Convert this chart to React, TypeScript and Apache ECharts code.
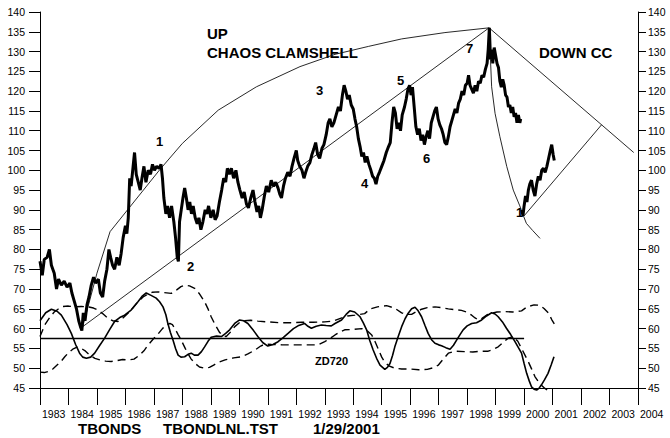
import React, { useEffect, useRef } from "react";
import * as echarts from "echarts";

// ---- data (year, value) ----
const yearTicks: number[] = [1983, 1984, 1985, 1986, 1987, 1988, 1989, 1990, 1991, 1992, 1993, 1994, 1995, 1996, 1997, 1998, 1999, 2000, 2001, 2002, 2003, 2004];

const priceMain: [number, number][] = [
  [1983.0, 77], [1983.08, 73.5], [1983.15, 77.5], [1983.25, 78], [1983.33, 80], [1983.4, 76], [1983.5, 74], [1983.58, 70],
  [1983.65, 72.5], [1983.75, 71], [1983.85, 72], [1983.95, 70.5], [1984.05, 71.5], [1984.12, 69], [1984.2, 67], [1984.28, 65],
  [1984.36, 62], [1984.42, 60.5], [1984.47, 59.5], [1984.52, 64], [1984.58, 62], [1984.65, 66], [1984.72, 68], [1984.8, 71],
  [1984.88, 73], [1984.95, 71.5], [1985.05, 72.5], [1985.12, 69], [1985.2, 68], [1985.27, 72], [1985.35, 75], [1985.42, 80],
  [1985.48, 78], [1985.55, 76], [1985.62, 75], [1985.7, 78], [1985.78, 76], [1985.85, 79], [1985.92, 83], [1986.0, 86],
  [1986.05, 84], [1986.1, 88], [1986.15, 98], [1986.2, 96], [1986.27, 101], [1986.32, 104.5], [1986.38, 99], [1986.45, 97],
  [1986.52, 95], [1986.58, 98], [1986.65, 101], [1986.72, 97], [1986.8, 100], [1986.88, 99], [1986.95, 101.5], [1987.02, 100],
  [1987.1, 101], [1987.18, 100.5], [1987.25, 101.5], [1987.3, 98], [1987.35, 93], [1987.42, 89], [1987.48, 91], [1987.55, 88],
  [1987.62, 91], [1987.7, 87], [1987.76, 83], [1987.82, 78], [1987.86, 77], [1987.9, 87], [1987.96, 90], [1988.02, 93],
  [1988.08, 95.5], [1988.14, 93], [1988.2, 90], [1988.26, 92], [1988.32, 89], [1988.38, 91], [1988.45, 88], [1988.52, 86.5],
  [1988.58, 88], [1988.65, 85], [1988.72, 87], [1988.8, 90], [1988.86, 89], [1988.92, 91], [1989.0, 88], [1989.08, 90],
  [1989.15, 87.5], [1989.22, 88.5], [1989.3, 92], [1989.38, 95], [1989.45, 98], [1989.52, 97], [1989.58, 100.5], [1989.65, 99],
  [1989.72, 100.5], [1989.8, 98], [1989.88, 100], [1989.95, 97], [1990.02, 95], [1990.1, 93], [1990.17, 94.5], [1990.25, 91.5],
  [1990.32, 90.5], [1990.4, 93], [1990.48, 95], [1990.55, 92], [1990.62, 89.5], [1990.68, 91], [1990.74, 88], [1990.8, 90],
  [1990.88, 93.5], [1990.95, 96], [1991.03, 94.5], [1991.12, 97.5], [1991.2, 96], [1991.28, 97], [1991.36, 95.5], [1991.42, 94],
  [1991.48, 93], [1991.55, 96], [1991.62, 98], [1991.7, 99.5], [1991.78, 98.5], [1991.85, 101], [1991.92, 103], [1992.0, 105],
  [1992.05, 102.5], [1992.12, 101], [1992.2, 100], [1992.27, 98], [1992.33, 99.5], [1992.4, 101], [1992.48, 102], [1992.55, 104],
  [1992.62, 105.5], [1992.68, 107], [1992.75, 104], [1992.82, 103], [1992.9, 105.5], [1992.97, 106.5], [1993.05, 109], [1993.12, 112],
  [1993.18, 113], [1993.25, 111], [1993.32, 112], [1993.4, 114], [1993.48, 116], [1993.55, 115], [1993.62, 119], [1993.68, 121.5],
  [1993.74, 120], [1993.8, 118], [1993.86, 119], [1993.93, 116.5], [1994.0, 115.5], [1994.06, 113], [1994.12, 111], [1994.18, 108],
  [1994.24, 106], [1994.3, 103.5], [1994.36, 104.5], [1994.42, 102], [1994.48, 103.5], [1994.55, 101.5], [1994.62, 100], [1994.68, 98.5],
  [1994.74, 98], [1994.8, 96.5], [1994.86, 98.5], [1994.92, 99.5], [1995.0, 101], [1995.08, 102.5], [1995.16, 104.5], [1995.24, 106],
  [1995.3, 107], [1995.36, 112], [1995.42, 116], [1995.48, 114.5], [1995.54, 110.5], [1995.6, 112], [1995.66, 110], [1995.72, 114],
  [1995.8, 116], [1995.86, 118], [1995.92, 120.5], [1995.98, 121.5], [1996.03, 119], [1996.08, 121], [1996.14, 116], [1996.2, 111],
  [1996.26, 109], [1996.32, 110.5], [1996.38, 107.5], [1996.44, 109], [1996.5, 106.5], [1996.56, 108.5], [1996.62, 110], [1996.68, 108],
  [1996.74, 112], [1996.8, 113.5], [1996.86, 115], [1996.92, 116], [1996.98, 113], [1997.04, 111.5], [1997.1, 110.5], [1997.16, 109],
  [1997.22, 107], [1997.28, 106.5], [1997.34, 108.5], [1997.4, 111], [1997.46, 112.5], [1997.52, 114], [1997.58, 115.5], [1997.64, 114.5],
  [1997.7, 117], [1997.76, 118], [1997.82, 120], [1997.88, 119], [1997.94, 121.5], [1998.0, 122], [1998.05, 124], [1998.1, 121.5],
  [1998.16, 120.5], [1998.22, 119.5], [1998.28, 121.5], [1998.34, 120], [1998.4, 122.5], [1998.46, 122], [1998.52, 124], [1998.58, 123.5],
  [1998.64, 125.5], [1998.7, 127], [1998.74, 130.5], [1998.78, 136], [1998.82, 128], [1998.86, 130.5], [1998.9, 127], [1998.95, 131],
  [1999.0, 129], [1999.05, 127], [1999.1, 126], [1999.15, 122.5], [1999.2, 121], [1999.25, 123], [1999.3, 121.5], [1999.35, 119],
  [1999.4, 118.5], [1999.45, 116], [1999.5, 116.5], [1999.55, 114.5], [1999.6, 116], [1999.65, 113.5], [1999.7, 114.5], [1999.75, 112],
  [1999.8, 114], [1999.85, 112], [1999.88, 113],
];

const priceNew: [number, number][] = [
  [1999.92, 90], [1999.96, 88.5], [2000.0, 91], [2000.05, 93.5], [2000.1, 92], [2000.15, 95], [2000.2, 96.5], [2000.26, 97.5],
  [2000.32, 95], [2000.38, 93.5], [2000.44, 96.5], [2000.5, 98.5], [2000.56, 97.5], [2000.62, 100], [2000.68, 100.5], [2000.74, 99.5],
  [2000.8, 101], [2000.86, 103], [2000.92, 105], [2000.97, 106.5], [2001.02, 104], [2001.06, 102.5],
];

const upArc: [number, number][] = [
  [1984.5, 60.5], [1985.0, 74], [1985.46, 84.5], [1987.2, 100.1], [1988.0, 106.8], [1989.26, 115.2], [1990.6, 121.1],
  [1992.13, 126.2], [1993.36, 129.3], [1994.53, 131.3], [1995.7, 133.2], [1997.22, 134.8], [1998.77, 136],
];
const upLine: [number, number][] = [[1984.5, 60.5], [1998.77, 136]];
const downLine: [number, number][] = [[1998.77, 136], [2003.85, 104.5]];
const downRise: [number, number][] = [[2000.0, 88.5], [2002.72, 111.5]];
const downCurve: [number, number][] = [
  [1998.77, 136], [1998.82, 128], [1998.86, 121.1], [1998.98, 114.4], [1999.15, 108.5], [1999.39, 101], [1999.62, 95],
  [1999.85, 91], [1999.95, 89], [2000.08, 86.6], [2000.3, 84.8], [2000.56, 82.8],
];

const zd720: [number, number][] = [
  [1983.0, 62], [1983.2, 64], [1983.4, 64.9], [1983.6, 64.4], [1983.75, 63.4], [1983.95, 61], [1984.1, 58.8], [1984.25, 56],
  [1984.39, 53.8], [1984.5, 52.8], [1984.63, 52.5], [1984.78, 52.8], [1984.92, 53.8], [1985.1, 55.8], [1985.27, 57.6], [1985.45, 59.8],
  [1985.62, 61.8], [1985.8, 62.8], [1985.97, 63.4], [1986.2, 64.7], [1986.44, 66.8], [1986.6, 68.3], [1986.73, 69], [1986.9, 68.4],
  [1987.08, 67.7], [1987.2, 66.8], [1987.32, 65.5], [1987.42, 63.5], [1987.49, 61.3], [1987.58, 59], [1987.67, 57.1], [1987.76, 55],
  [1987.85, 53.3], [1987.95, 52.8], [1988.08, 52.9], [1988.2, 53.5], [1988.31, 53.8], [1988.42, 53.3], [1988.55, 53.3], [1988.67, 54.2],
  [1988.78, 55.4], [1988.9, 56.8], [1989.01, 57.8], [1989.2, 58.1], [1989.37, 58], [1989.52, 58.8], [1989.66, 59.7], [1989.85, 61.4],
  [1990.01, 62.2], [1990.15, 62], [1990.3, 61.3], [1990.5, 59.5], [1990.65, 58], [1990.82, 56.5], [1991.0, 55.6], [1991.18, 56],
  [1991.36, 56.7], [1991.55, 57.8], [1991.71, 58.8], [1991.9, 60], [1992.06, 60.7], [1992.29, 61.3], [1992.41, 60.6], [1992.53, 60.1],
  [1992.7, 60.6], [1992.88, 60.9], [1993.05, 60.8], [1993.23, 60.7], [1993.36, 61.3], [1993.59, 62.2], [1993.75, 63.6], [1993.88, 64.5],
  [1994.05, 64.2], [1994.24, 63], [1994.35, 61.5], [1994.47, 59.7], [1994.58, 57], [1994.7, 54.6], [1994.82, 52.5], [1994.94, 50.8],
  [1995.11, 49.7], [1995.2, 50.2], [1995.29, 51.2], [1995.38, 53.2], [1995.46, 55.4], [1995.58, 58], [1995.7, 60.5], [1995.82, 62.5],
  [1995.93, 63.9], [1996.05, 65], [1996.17, 65.4], [1996.28, 64.5], [1996.4, 63], [1996.52, 60.8], [1996.63, 58.8], [1996.75, 57.2],
  [1996.87, 56.3], [1997.0, 55.9], [1997.1, 55.7], [1997.25, 55.2], [1997.4, 54.8], [1997.52, 55.8], [1997.63, 57.1], [1997.75, 58.5],
  [1997.86, 59.7], [1998.0, 60.7], [1998.16, 61.3], [1998.33, 61.5], [1998.51, 62.2], [1998.68, 63.2], [1998.86, 64], [1998.98, 63.7],
  [1999.09, 63], [1999.24, 61.7], [1999.38, 60.1], [1999.53, 58.5], [1999.68, 56.7], [1999.8, 55.2], [1999.91, 53.8], [2000.0, 51.2],
  [2000.09, 48.7], [2000.18, 46.8], [2000.26, 45.3], [2000.35, 44.7], [2000.44, 44.5], [2000.52, 44.9], [2000.61, 45.8], [2000.72, 47.1],
  [2000.84, 48.7], [2000.95, 50.8], [2001.05, 52.9],
];

const upperBand: [number, number][] = [
  [1983.0, 58], [1983.17, 61], [1983.34, 62.8], [1983.5, 64.2], [1983.63, 64.9], [1983.8, 65.6], [1984.0, 65.7], [1984.22, 65.5],
  [1984.45, 65.6], [1984.69, 65.5], [1984.88, 65.2], [1985.04, 64.7], [1985.2, 63.8], [1985.39, 62.6], [1985.55, 62], [1985.74, 61.8],
  [1985.9, 62.6], [1986.09, 63.9], [1986.27, 65.3], [1986.44, 66.8], [1986.62, 68], [1986.79, 68.7], [1986.95, 69.2], [1987.14, 69.3],
  [1987.35, 69.1], [1987.61, 68.9], [1987.8, 69.8], [1987.95, 70.6], [1988.08, 71], [1988.25, 70.8], [1988.43, 70.2], [1988.6, 68.8],
  [1988.78, 66.8], [1988.9, 65], [1989.01, 63], [1989.15, 61], [1989.31, 59], [1989.42, 58.2], [1989.54, 58], [1989.7, 59.2],
  [1989.84, 60.5], [1990.0, 61.5], [1990.19, 62], [1990.4, 62.1], [1990.65, 61.9], [1991.0, 61.7], [1991.4, 61.5], [1991.8, 61.5],
  [1992.2, 61.6], [1992.6, 61.6], [1993.0, 61.7], [1993.3, 61.9], [1993.55, 62.6], [1993.8, 63.2], [1994.06, 63.4], [1994.4, 63.8],
  [1994.6, 65], [1994.85, 65.5], [1995.17, 65.8], [1995.45, 65.2], [1995.7, 64], [1995.9, 63.6], [1996.05, 63.6], [1996.22, 64.3],
  [1996.4, 64.9], [1996.6, 65.3], [1996.87, 65.5], [1997.1, 65.3], [1997.34, 65], [1997.57, 64.8], [1997.8, 64.6], [1997.98, 64.2],
  [1998.16, 63.4], [1998.28, 62.7], [1998.39, 62.2], [1998.52, 62.6], [1998.7, 63.5], [1998.86, 63.9], [1999.05, 64.2], [1999.33, 64.3],
  [1999.6, 64.2], [1999.91, 64.5], [2000.1, 65.5], [2000.35, 66], [2000.55, 65.9], [2000.7, 65.1], [2000.85, 64], [2000.97, 62.3],
  [2001.06, 61.2],
];

const lowerBand: [number, number][] = [
  [1983.0, 49], [1983.15, 48.9], [1983.3, 49.2], [1983.45, 49.8], [1983.6, 50.8], [1983.75, 51.8], [1983.87, 52.9], [1984.0, 53.9],
  [1984.15, 54.8], [1984.3, 55.3], [1984.45, 55], [1984.6, 54.3], [1984.75, 53.3], [1984.93, 52.5], [1985.1, 52.1], [1985.3, 51.8],
  [1985.5, 51.7], [1985.7, 51.9], [1985.9, 52.2], [1986.1, 52.1], [1986.3, 52.3], [1986.5, 53.3], [1986.65, 54.4], [1986.8, 55.9],
  [1986.97, 57.3], [1987.14, 58.6], [1987.3, 60], [1987.45, 61], [1987.56, 61.3], [1987.65, 61], [1987.73, 60.1], [1987.85, 58.5],
  [1987.96, 57.1], [1988.1, 55], [1988.2, 53.6], [1988.31, 52.3], [1988.45, 51.2], [1988.6, 50.3], [1988.78, 50], [1988.95, 50.2],
  [1989.1, 50.8], [1989.3, 51.6], [1989.5, 52.1], [1989.8, 52.6], [1990.08, 52.9], [1990.3, 53.6], [1990.55, 54.6], [1990.75, 55.6],
  [1990.9, 56.1], [1991.13, 56], [1991.5, 55.9], [1991.9, 55.9], [1992.3, 55.9], [1992.77, 55.9], [1993.0, 56.7], [1993.2, 57.6],
  [1993.36, 58.4], [1993.55, 59.2], [1993.7, 59.7], [1994.0, 59.8], [1994.3, 60], [1994.5, 59.4], [1994.65, 58.4], [1994.78, 56.5],
  [1994.9, 54.5], [1995.0, 52.8], [1995.1, 51.6], [1995.25, 50.6], [1995.46, 50], [1995.7, 49.8], [1996.0, 49.8], [1996.3, 49.6],
  [1996.6, 49.7], [1996.8, 50.1], [1996.99, 50.8], [1997.15, 52.2], [1997.34, 53.8], [1997.57, 54.3], [1997.9, 54.2], [1998.2, 54.1],
  [1998.5, 54.3], [1998.74, 54.3], [1998.9, 54.7], [1999.09, 55.4], [1999.28, 56.6], [1999.44, 57.6], [1999.62, 58], [1999.78, 56.8],
  [1999.91, 55], [2000.03, 53.3], [2000.15, 51.6], [2000.27, 49.7], [2000.38, 47.9], [2000.55, 46.1], [2000.73, 44.9], [2000.9, 44.1],
];

const midLine: [number, number][] = [[1983, 57.5], [2000, 57.5]];

const FONT = "'Liberation Sans', Arial, Helvetica, sans-serif";

function lineSeries(data: [number, number][], width: number, dash?: number[] | "solid", color = "#000") {
  return {
    type: "line",
    data,
    symbol: "none",
    silent: true,
    clip: false,
    z: 2,
    lineStyle: { color, width, type: dash || "solid" },
  };
}

function txt(text: string, x: number, y: number, size: number, weight: string = "bold") {
  return {
    type: "text",
    x,
    y,
    silent: true,
    style: {
      text,
      fill: "#000",
      fontSize: size,
      fontWeight: weight,
      fontFamily: FONT,
      align: "left",
      verticalAlign: "middle",
    },
  };
}

export default function App() {
  const ref = useRef<HTMLDivElement>(null);
  useEffect(() => {
    document.body.style.margin = "0";
    if (!ref.current) return;
    const chart = echarts.init(ref.current, undefined, { renderer: "svg" });
    const yAxisBase = {
      type: "value",
      min: 45,
      max: 140,
      interval: 5,
      splitLine: { show: false },
      axisLine: { show: true, lineStyle: { color: "#000", width: 1 } },
      axisTick: { show: true, inside: false, lineStyle: { color: "#000" } },
    };
    chart.setOption({
      animation: false,
      backgroundColor: "#fff",
      grid: { left: 40, right: 32, top: 12, bottom: 50, containLabel: false },
      xAxis: {
        type: "value",
        min: yearTicks[0],
        max: yearTicks[yearTicks.length - 1],
        interval: 1,
        splitLine: { show: false },
        axisLine: { show: true, onZero: false, lineStyle: { color: "#000", width: 1 } },
        axisTick: { show: true, length: 17, lineStyle: { color: "#000" } },
        axisLabel: {
          show: true,
          showMinLabel: true,
          showMaxLabel: true,
          margin: 20,
          align: "left",
          padding: [0, 0, 0, 2],
          color: "#000",
          fontSize: 10.5,
          fontFamily: FONT,
          formatter: (v: number) => String(v),
        },
      },
      yAxis: [
        {
          ...yAxisBase,
          position: "left",
          axisTick: { ...yAxisBase.axisTick, length: 11 },
          axisLabel: { margin: 15, color: "#000", fontSize: 10.5, fontFamily: FONT, showMinLabel: true, showMaxLabel: true },
        },
        {
          ...yAxisBase,
          position: "right",
          axisTick: { ...yAxisBase.axisTick, length: 8 },
          axisLabel: { margin: 10, color: "#000", fontSize: 10.5, fontFamily: FONT, showMinLabel: true, showMaxLabel: true },
        },
      ],
      series: [
        lineSeries(upArc, 0.9, "solid", "#111"),
        lineSeries(upLine, 0.9, "solid", "#111"),
        lineSeries(downLine, 0.9, "solid", "#111"),
        lineSeries(downRise, 0.9, "solid", "#111"),
        lineSeries(downCurve, 0.9, "solid", "#111"),
        lineSeries(midLine, 1.4),
        lineSeries(upperBand, 1.4, [8, 5]),
        lineSeries(lowerBand, 1.4, [8, 5]),
        lineSeries(zd720, 1.6),
        { ...lineSeries(priceMain, 3), z: 3 },
        { ...lineSeries(priceNew, 3), z: 3 },
      ],
      graphic: [
        txt("UP", 207, 33, 15),
        txt("CHAOS CLAMSHELL", 207, 52, 15),
        txt("DOWN CC", 539, 52, 15),
        txt("1", 156, 141, 13),
        txt("2", 187, 266, 13),
        txt("3", 316, 90, 13),
        txt("4", 361, 183, 13),
        txt("5", 397, 80, 13),
        txt("6", 423, 158, 13),
        txt("7", 466, 48, 13),
        txt("1", 516, 212, 13),
        txt("ZD720", 315, 361, 11),
        txt("TBONDS", 78, 428, 15),
        txt("TBONDLNL.TST", 163, 428, 15),
        txt("1/29/2001", 313, 428, 15),
      ],
    });
    return () => chart.dispose();
  }, []);
  return <div ref={ref} style={{ width: 670, height: 438 }} />;
}
